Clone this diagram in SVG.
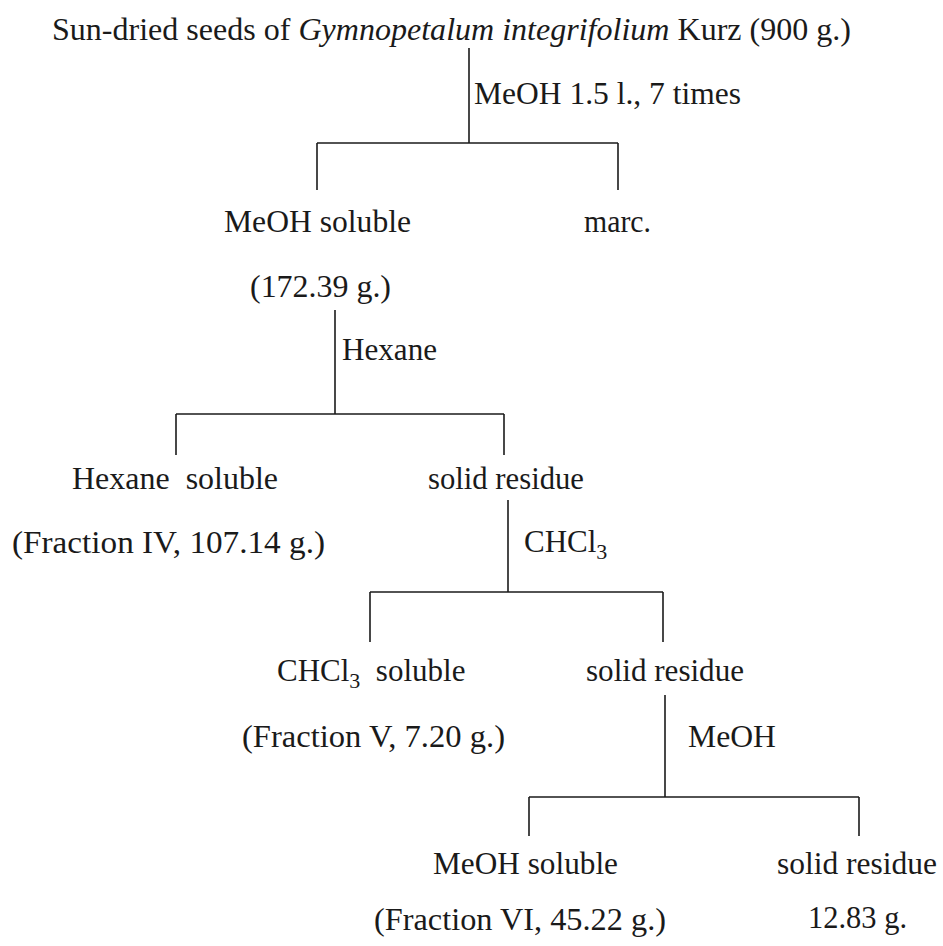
<svg xmlns="http://www.w3.org/2000/svg" width="943" height="946" viewBox="0 0 943 946">
<style>
text{font-family:"Liberation Serif","Times New Roman",serif;font-size:31px;fill:#1a1a1a;white-space:pre}
.c line{stroke:#1a1a1a;stroke-width:1.6;fill:none}
.it{font-style:italic}
.sub{font-size:22px}
</style>
<rect width="943" height="946" fill="#ffffff"/>
<g class="c" id="connectors">
<line x1="469" y1="48" x2="469" y2="143"/>
<line x1="317" y1="143" x2="618" y2="143"/>
<line x1="317" y1="143" x2="317" y2="190"/>
<line x1="618" y1="143" x2="618" y2="190"/>
<line x1="335" y1="310" x2="335" y2="414"/>
<line x1="176" y1="414" x2="504" y2="414"/>
<line x1="176" y1="414" x2="176" y2="455"/>
<line x1="504" y1="414" x2="504" y2="455"/>
<line x1="508" y1="500" x2="508" y2="592"/>
<line x1="370" y1="592" x2="663" y2="592"/>
<line x1="370" y1="592" x2="370" y2="642"/>
<line x1="663" y1="592" x2="663" y2="642"/>
<line x1="665" y1="695" x2="665" y2="797"/>
<line x1="529" y1="797" x2="859" y2="797"/>
<line x1="529" y1="797" x2="529" y2="836"/>
<line x1="859" y1="797" x2="859" y2="836"/>
<text x="474" y="104" textLength="267" lengthAdjust="spacingAndGlyphs">MeOH 1.5 l., 7 times</text>
<text x="342" y="360" textLength="95" lengthAdjust="spacingAndGlyphs">Hexane</text>
<text x="524" y="552">CHCl<tspan class="sub" dy="7">3</tspan></text>
<text x="688" y="747" textLength="88" lengthAdjust="spacingAndGlyphs">MeOH</text>
</g>
<g id="start">
<text x="52" y="40" textLength="799" lengthAdjust="spacingAndGlyphs">Sun-dried seeds of <tspan class="it">Gymnopetalum integrifolium</tspan> Kurz (900 g.)</text>
</g>
<g id="meoh-soluble">
<text x="224" y="232" textLength="187" lengthAdjust="spacingAndGlyphs">MeOH soluble</text>
<text x="250" y="297" textLength="141" lengthAdjust="spacingAndGlyphs">(172.39 g.)</text>
</g>
<g id="marc">
<text x="584" y="232" textLength="67" lengthAdjust="spacingAndGlyphs">marc.</text>
</g>
<g id="hexane-soluble">
<text x="72" y="489" textLength="206" lengthAdjust="spacingAndGlyphs">Hexane  soluble</text>
<text x="12" y="553" textLength="313" lengthAdjust="spacingAndGlyphs">(Fraction IV, 107.14 g.)</text>
</g>
<g id="solid-residue-1">
<text x="428" y="489" textLength="156" lengthAdjust="spacingAndGlyphs">solid residue</text>
</g>
<g id="chcl3-soluble">
<text x="277" y="681">CHCl<tspan class="sub" dy="7">3</tspan><tspan dy="-7">  soluble</tspan></text>
<text x="242" y="747" textLength="263" lengthAdjust="spacingAndGlyphs">(Fraction V, 7.20 g.)</text>
</g>
<g id="solid-residue-2">
<text x="586" y="681" textLength="158" lengthAdjust="spacingAndGlyphs">solid residue</text>
</g>
<g id="meoh-soluble-2">
<text x="433" y="874" textLength="185" lengthAdjust="spacingAndGlyphs">MeOH soluble</text>
<text x="374" y="930" textLength="292" lengthAdjust="spacingAndGlyphs">(Fraction VI, 45.22 g.)</text>
</g>
<g id="solid-residue-3">
<text x="777" y="874" textLength="160" lengthAdjust="spacingAndGlyphs">solid residue</text>
<text x="808" y="928" textLength="99" lengthAdjust="spacingAndGlyphs">12.83 g.</text>
</g>
</svg>
